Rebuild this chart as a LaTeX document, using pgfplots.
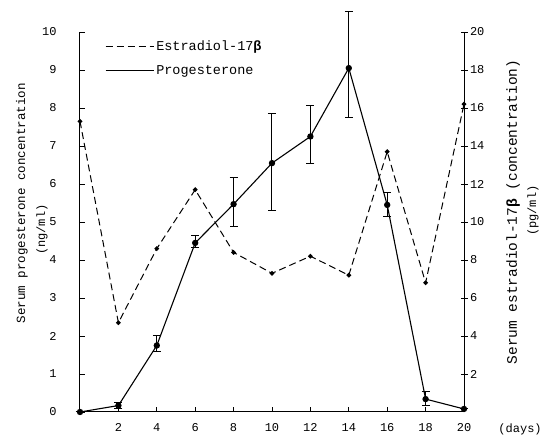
\documentclass[border=0pt]{standalone}
\usepackage{pgfplots}
\pgfplotsset{compat=1.18}
\usepackage{pgfplotstable}
\usepackage{fontspec}
\setmainfont{Liberation Mono}
\pgfplotstableread{
day  prog  ep    em
0    0.00  0     0
2    0.17  0.08  0.08
4    1.75  0.25  0.17
6    4.45  0.20  0.12
8    5.47  0.70  0.60
10   6.55  1.30  1.25
12   7.25  0.82  0.72
14   9.05  1.50  1.30
16   5.45  0.33  0.30
18   0.34  0.20  0.16
20   0.08  0     0
}\progtable
\pgfplotstableread{
day  estr
0    15.3
2    4.7
4    8.6
6    11.7
8    8.4
10   7.3
12   8.2
14   7.2
16   13.7
18   6.8
20   16.2
}\estrtable
\begin{document}
\begin{tikzpicture}
\path[use as bounding box] (-80pt,-30pt) rectangle (464pt,412pt);
\begin{axis}[
  at={(0pt,0pt)}, anchor=south west,
  scale only axis, width=384pt, height=380pt,
  xmin=0, xmax=20, ymin=0, ymax=10,
  axis x line*=bottom, axis y line*=left,
  axis line style={line width=1pt},
  xtick={2,4,...,20}, ytick={0,1,...,10},
  tick align=inside, major tick length=5pt,
  tick style={black, line width=0.8pt},
  /pgf/number format/assume math mode=true,
  tick label style={font=\fontsize{12}{14}\selectfont},
  yticklabel style={xshift=-20pt},
  xticklabel style={yshift=-8pt},
  xlabel={(days)},
  xlabel style={at={(axis description cs:1.146,-0.045)}, anchor=center, font=\fontsize{12}{14}\selectfont},
  ylabel={Serum progesterone concentration},
  ylabel style={at={(axis description cs:-0.151,0.55)}, anchor=center, rotate=0, font=\fontsize{12.5}{14}\selectfont},
  clip=false,
]
\addplot[black, line width=1.1pt, mark=*, mark size=2.6pt,
  error bars/.cd, y dir=both, y explicit,
  error bar style={line width=1pt},
  error mark options={rotate=90, mark size=4pt, line width=1pt}]
  table[x=day, y=prog, y error plus=ep, y error minus=em] {\progtable};
\node[rotate=90, font=\fontsize{12}{14}\selectfont] at (axis description cs:-0.099,0.48) {(ng/ml)};
\end{axis}
\begin{axis}[
  at={(0pt,0pt)}, anchor=south west,
  scale only axis, width=384pt, height=380pt,
  xmin=0, xmax=20, ymin=0, ymax=20,
  axis x line=none, axis y line*=right,
  axis line style={line width=1pt},
  ytick={2,4,...,20},
  tick align=center, major tick length=7pt,
  tick style={black, line width=0.8pt},
  /pgf/number format/assume math mode=true,
  tick label style={font=\fontsize{12}{14}\selectfont},
  yticklabel style={xshift=-1pt},
  ylabel={Serum estradiol-17{\bfseries β} (concentration)},
  ylabel style={at={(axis description cs:1.128,0.526)}, anchor=center, rotate=0, font=\fontsize{14.5}{16}\selectfont},
  legend style={at={(axis description cs:0.065,0.982)}, anchor=north west, draw=none, fill=none,
    font=\fontsize{13.5}{15}\selectfont, row sep=9pt, inner sep=0pt,
    cells={anchor=west}},
  legend image code/.code={\draw[#1, mark=none] (0pt,0pt) -- (48pt,0pt);},
  clip=false,
]
\addplot[black, line width=1pt, dash pattern=on 7pt off 4pt, mark=*, mark size=1.8pt,
  mark options={solid}]
  table[x=day, y=estr] {\estrtable};
\addlegendentry{Estradiol-17{\bfseries β}}
\addlegendimage{black, line width=1.1pt}
\addlegendentry{Progesterone}
\node[rotate=90, font=\fontsize{12}{14}\selectfont] at (axis description cs:1.18,0.53) {(pg/ml)};
\end{axis}
\end{tikzpicture}
\end{document}
